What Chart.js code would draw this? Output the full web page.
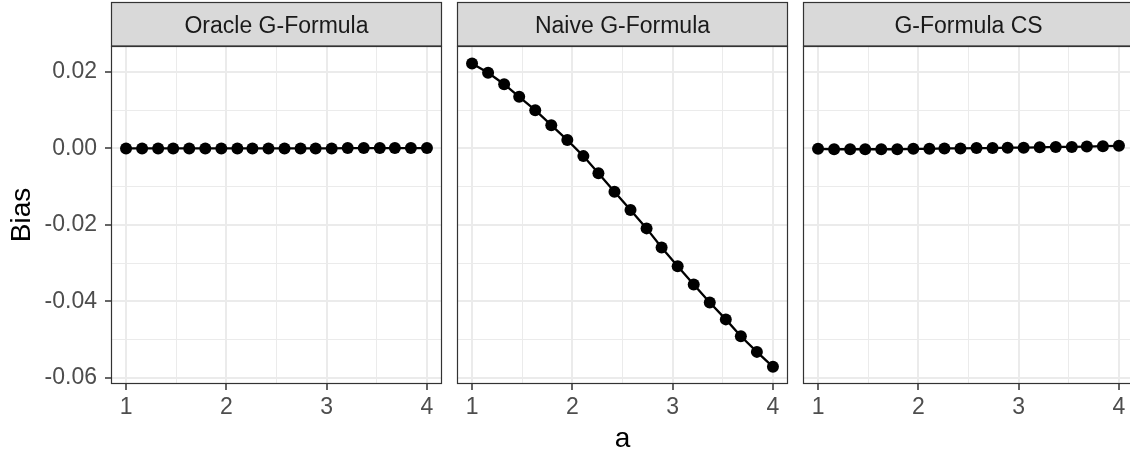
<!DOCTYPE html>
<html><head><meta charset="utf-8">
<script src="https://cdn.jsdelivr.net/npm/chart.js@4.4.0/dist/chart.umd.min.js"></script>
<style>
html,body{margin:0;padding:0;background:#fff;overflow:hidden;width:1130px;height:456px}
.panel{position:absolute;top:0}
</style></head><body>
<div class="panel" style="left:0"><canvas id="c-oracle" width="443" height="456"></canvas></div>
<div class="panel" style="left:456px"><canvas id="c-naive" width="333" height="456"></canvas></div>
<div class="panel" style="left:802px"><canvas id="c-cs" width="333" height="456"></canvas></div>
<script>
// ══════════════════════════════════════
//  DATA
// ══════════════════════════════════════
const aVals=[1.00,1.16,1.32,1.47,1.63,1.79,1.95,2.11,2.26,2.42,2.58,2.74,2.89,3.05,3.21,3.37,3.53,3.68,3.84,4.00];
const oracleBias=[0.0000,0.0000,0.0000,0.0000,0.0000,0.0000,0.0000,0.0000,0.0000,0.0000,0.0000,0.0000,0.0000,0.0000,0.0001,0.0001,0.0001,0.0001,0.0001,0.0001];
const naiveBias=[0.0222,0.0198,0.0168,0.0135,0.0100,0.0061,0.0022,-0.0020,-0.0065,-0.0113,-0.0161,-0.0209,-0.0259,-0.0308,-0.0356,-0.0403,-0.0447,-0.0491,-0.0532,-0.0571];
const csBias=[-0.0001,-0.0002,-0.0002,-0.0002,-0.0002,-0.0002,-0.0001,-0.0001,0.0000,0.0000,0.0001,0.0001,0.0002,0.0002,0.0003,0.0004,0.0004,0.0005,0.0006,0.0007];
const panelTitles=['Oracle G-Formula','Naive G-Formula','G-Formula CS'];
const xMajor=[1,2,3,4], xMinor=[1.5,2.5,3.5];
const yMajor=[-0.06,-0.04,-0.02,0.00,0.02], yMinor=[-0.05,-0.03,-0.01,0.01];
const xLim=[0.85,4.15], yLim=[-0.0616,0.0268];

const FONT='"Liberation Sans", Arial, Helvetica, sans-serif';
const isMaj=(list,val)=>list.some(m=>Math.abs(m-val)<1e-9);

// strip header + panel border, drawn like facet_wrap in theme_bw
const facetPlugin={
  id:'facet',
  afterDraw(chart,args,opts){
    const {ctx,chartArea:a}=chart;
    ctx.save();
    ctx.fillStyle='#D9D9D9';
    ctx.fillRect(a.left,2,a.right-a.left,a.top-2);
    ctx.strokeStyle='#333333'; ctx.lineWidth=1.2;
    ctx.strokeRect(a.left+.5,2.5,a.right-a.left-1,a.top-2.5);
    ctx.strokeRect(a.left+.5,a.top+.5,a.right-a.left-1,a.bottom-a.top-1);
    ctx.fillStyle='#1A1A1A'; ctx.font='23px '+FONT;
    ctx.textAlign='center'; ctx.textBaseline='alphabetic';
    ctx.fillText(opts.title,(a.left+a.right)/2,33);
    ctx.restore();
  }
};

function makePanel(id,vals,idx){
  const first=idx===0, mid=idx===1;
  return new Chart(document.getElementById(id),{
    type:'line',
    data:{datasets:[{data:aVals.map((x,i)=>({x,y:vals[i]})),borderColor:'#000',backgroundColor:'#000',borderWidth:2.3,pointRadius:6,pointBackgroundColor:'#000',pointBorderWidth:0,tension:0,clip:false}]},
    options:{
      responsive:false,animation:false,
      layout:{autoPadding:false,padding:{top:46,left:first?0:1,right:1,bottom:0}},
      plugins:{legend:{display:false},tooltip:{enabled:false},facet:{title:panelTitles[idx]}},
      scales:{
        x:{type:'linear',min:xLim[0],max:xLim[1],
          afterBuildTicks:s=>{s.ticks=[...xMajor,...xMinor].sort((p,q)=>p-q).map(v=>({value:v}));},
          afterFit:s=>{s.height=72;s.paddingLeft=0;s.paddingRight=0;},
          grid:{color:'#EBEBEB',lineWidth:c=>c.tick&&isMaj(xMajor,c.tick.value)?2:1,
            tickColor:c=>c.tick&&isMaj(xMajor,c.tick.value)?'#333333':'rgba(0,0,0,0)',tickLength:6,tickWidth:1.5},
          border:{display:false},
          ticks:{autoSkip:false,maxRotation:0,padding:4,color:'#4D4D4D',font:{family:FONT,size:23},
            callback:v=>isMaj(xMajor,v)?String(v):''},
          title:{display:mid,text:'a',color:'#000',font:{family:FONT,size:28},padding:{top:0,bottom:0}}
        },
        y:{type:'linear',min:yLim[0],max:yLim[1],
          afterBuildTicks:s=>{s.ticks=[...yMajor,...yMinor].sort((p,q)=>p-q).map(v=>({value:v}));},
          afterFit:s=>{s.width=first?111:0;s.paddingTop=0;s.paddingBottom=0;},
          grid:{color:'#EBEBEB',lineWidth:c=>c.tick&&isMaj(yMajor,c.tick.value)?2:1,
            drawTicks:first,
            tickColor:c=>c.tick&&isMaj(yMajor,c.tick.value)?'#333333':'rgba(0,0,0,0)',tickLength:6,tickWidth:1.5},
          border:{display:false},
          ticks:{display:first,autoSkip:false,padding:8,color:'#4D4D4D',font:{family:FONT,size:23},
            callback:v=>isMaj(yMajor,v)?v.toFixed(2):''},
          title:{display:first,text:'Bias',color:'#000',font:{family:FONT,size:28},padding:{top:5,bottom:0}}
        }
      }
    },
    plugins:[facetPlugin]
  });
}
makePanel('c-oracle',oracleBias,0);
makePanel('c-naive',naiveBias,1);
makePanel('c-cs',csBias,2);
</script>
</body></html>
